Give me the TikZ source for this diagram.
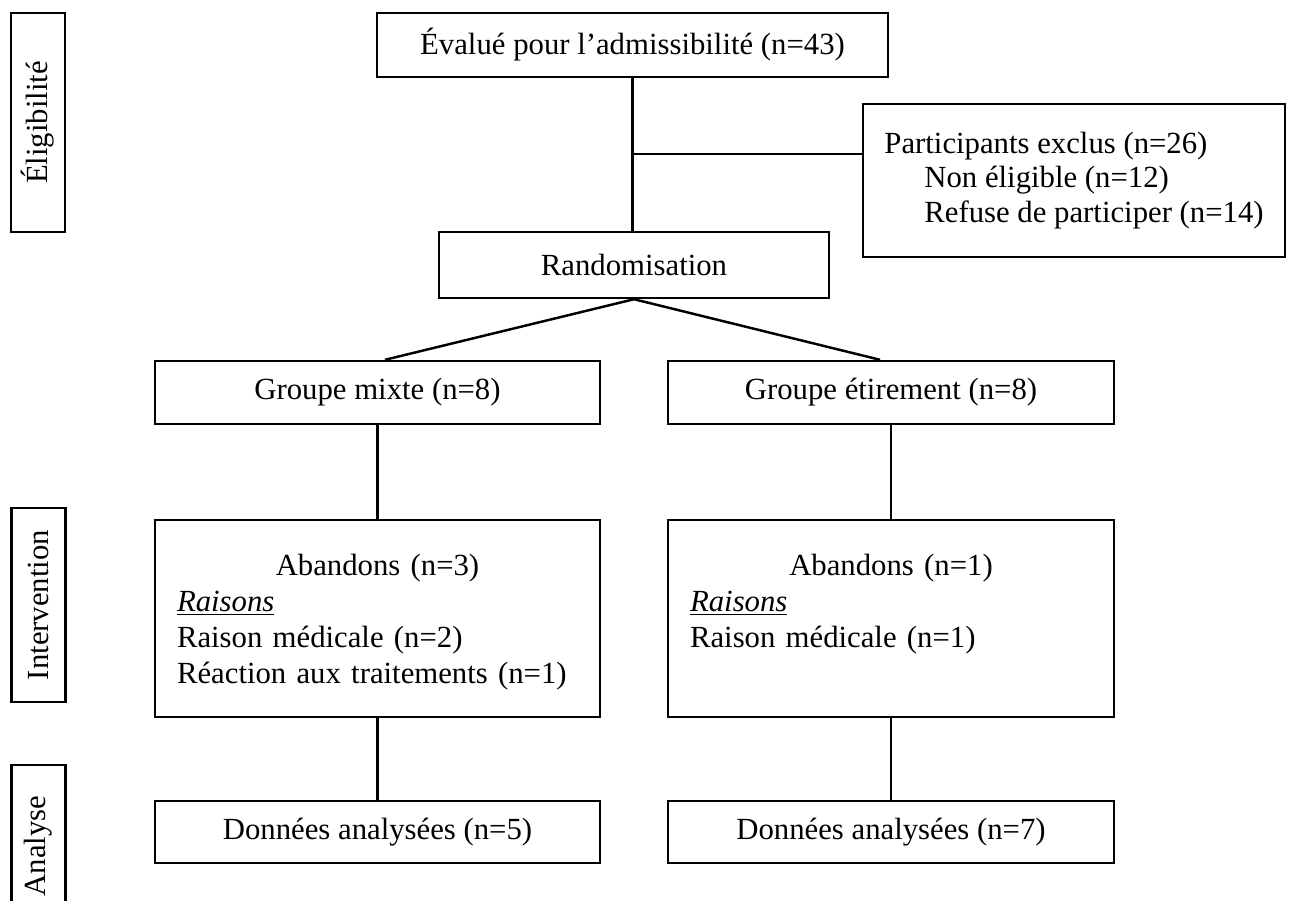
\documentclass[tikz,border=0pt]{standalone}
\usepackage{fontspec}
\setmainfont{Liberation Serif}
\usetikzlibrary{positioning}

\begin{document}
\begin{tikzpicture}[x=0.02cm, y=-0.02cm,
    box/.style={draw, line width=1.4pt, inner sep=0pt,
      font=\fontsize{17.5}{20}\selectfont, align=center},
    phase/.style={box, rotate=90, minimum height=1.08cm},
    txt/.style={inner sep=0pt, font=\fontsize{17.5}{20.5}\selectfont},
    link/.style={line width=1.4pt},
  ]
    \useasboundingbox (0,0) rectangle (1291,900);

    % phases
    \node[phase, minimum width=4.38cm] (elig) at (38,122.5) {Éligibilité};
    \node[phase, minimum width=3.88cm] (interv) at (38.5,605) {Intervention};
    \node[phase, minimum width=3.24cm] (analyse) at (38.5,846) {Analyse};

    % flow
    \node[box, minimum width=10.22cm, minimum height=1.28cm] (eval) at (632.5,45) {Évalué pour l’admissibilité (n=43)};
    \node[box, minimum width=8.44cm, minimum height=3.06cm, align=left, font=\fontsize{17.5}{19.5}\selectfont] (exclus) at (1074,180.5)
      {Participants exclus (n=26)\\ \hspace*{0.8cm}Non éligible (n=12)\\ \hspace*{0.8cm}Refuse de participer (n=14)};
    \node[box, minimum width=7.8cm, minimum height=1.32cm] (rando) at (634,265) {Randomisation};
    \node[box, minimum width=8.9cm, minimum height=1.26cm] (mixte) at (377.5,392.5) {Groupe mixte (n=8)};
    \node[box, minimum width=8.92cm, minimum height=1.26cm] (etire) at (891,392.5) {Groupe étirement (n=8)};
    \node[box, minimum width=8.9cm, minimum height=3.94cm] (abandm) at (377.5,618.5) {};
    \node[box, minimum width=8.92cm, minimum height=3.94cm] (abande) at (891,618.5) {};
    \node[txt, text width=8.02cm, align=left, below=0.7cm of abandm.north] (abandmtxt)
      {\makebox[8.02cm]{Abandons (n=3)}\\ \underline{\textit{Raisons}}\\ Raison médicale (n=2)\\ Réaction aux traitements (n=1)};
    \node[txt, text width=8.04cm, align=left, below=0.7cm of abande.north] (abandetxt)
      {\makebox[8.04cm]{Abandons (n=1)}\\ \underline{\textit{Raisons}}\\ Raison médicale (n=1)};
    \node[box, minimum width=8.9cm, minimum height=1.24cm] (donm) at (377.5,832) {Données analysées (n=5)};
    \node[box, minimum width=8.92cm, minimum height=1.24cm] (done) at (891,832) {Données analysées (n=7)};

    % connectors
    \coordinate (branch) at (eval.south |- 0,154);
    \draw[link] (eval.south) -- (eval.south |- rando.north);
    \draw[link] (branch) -- (branch -| exclus.west);
    \draw[link] (rando.south) -- ([xshift=0.15cm]mixte.north);
    \draw[link] (rando.south) -- ([xshift=-0.22cm]etire.north);
    \draw[link] (mixte) -- (abandm);
    \draw[link] (etire) -- (abande);
    \draw[link] (abandm) -- (donm);
    \draw[link] (abande) -- (done);
\end{tikzpicture}
\end{document}
